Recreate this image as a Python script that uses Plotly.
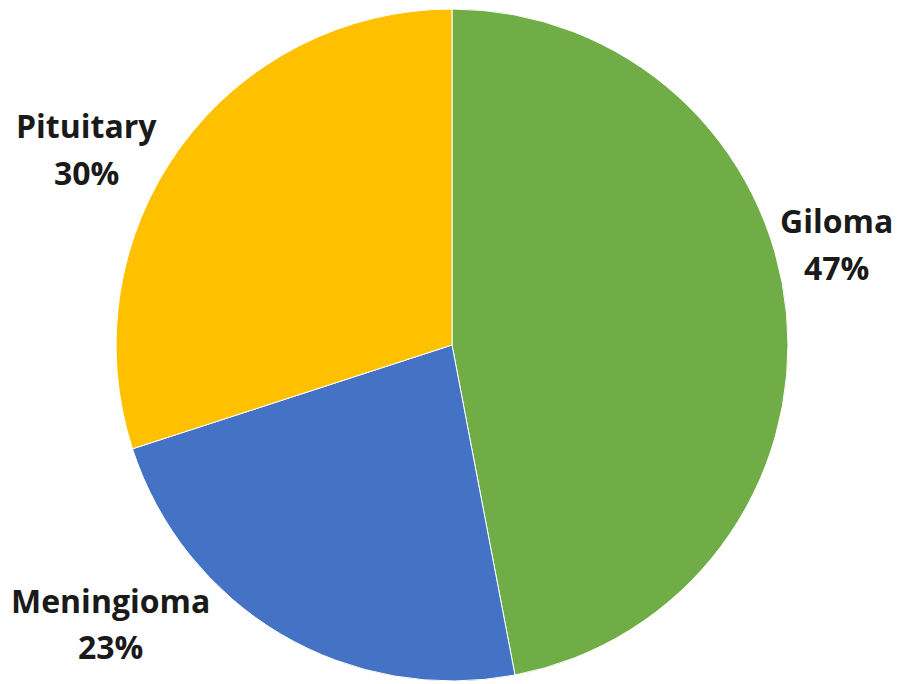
import plotly.graph_objects as go

# tumour class shares (%)
labels = ["Giloma", "Meningioma", "Pituitary"]
values = [47, 23, 30]
colors = ["#70AD47", "#4472C4", "#FFC000"]

# outside label spots in paper coords: (x, y of name line, y of % line)
label_pos = {
    "Giloma": (0.921, 0.690, 0.621),
    "Pituitary": (0.087, 0.8275, 0.759),
    "Meningioma": (0.114, 0.1345, 0.066),
}

fig = go.Figure(
    data=[go.Pie(
        labels=labels,
        values=values,
        sort=False,
        direction="clockwise",
        rotation=0,
        marker=dict(colors=colors, line=dict(color="white", width=1)),
        textinfo="none",
        hoverinfo="label+percent",
        showlegend=False,
        # page body has an 8px margin, domain shifted to compensate
        domain=dict(x=[0.12, 0.8667], y=[0.0161, 0.9985]),
    )]
)

lab_font = dict(family="Open Sans", size=32, color="#1a1a1a")
for lab, val in zip(labels, values):
    x, y1, y2 = label_pos[lab]
    fig.add_annotation(x=x, y=y1, xref="paper", yref="paper",
                       text=f"<b>{lab}</b>", showarrow=False,
                       xanchor="center", yanchor="middle", font=lab_font)
    fig.add_annotation(x=x, y=y2, xref="paper", yref="paper",
                       text=f"<b>{val}%</b>", showarrow=False,
                       xanchor="center", yanchor="middle", font=lab_font)

fig.update_layout(
    width=900, height=684,
    margin=dict(l=0, r=0, t=0, b=0),
    paper_bgcolor="white",
    plot_bgcolor="white",
)

fig.write_html("out.html")
